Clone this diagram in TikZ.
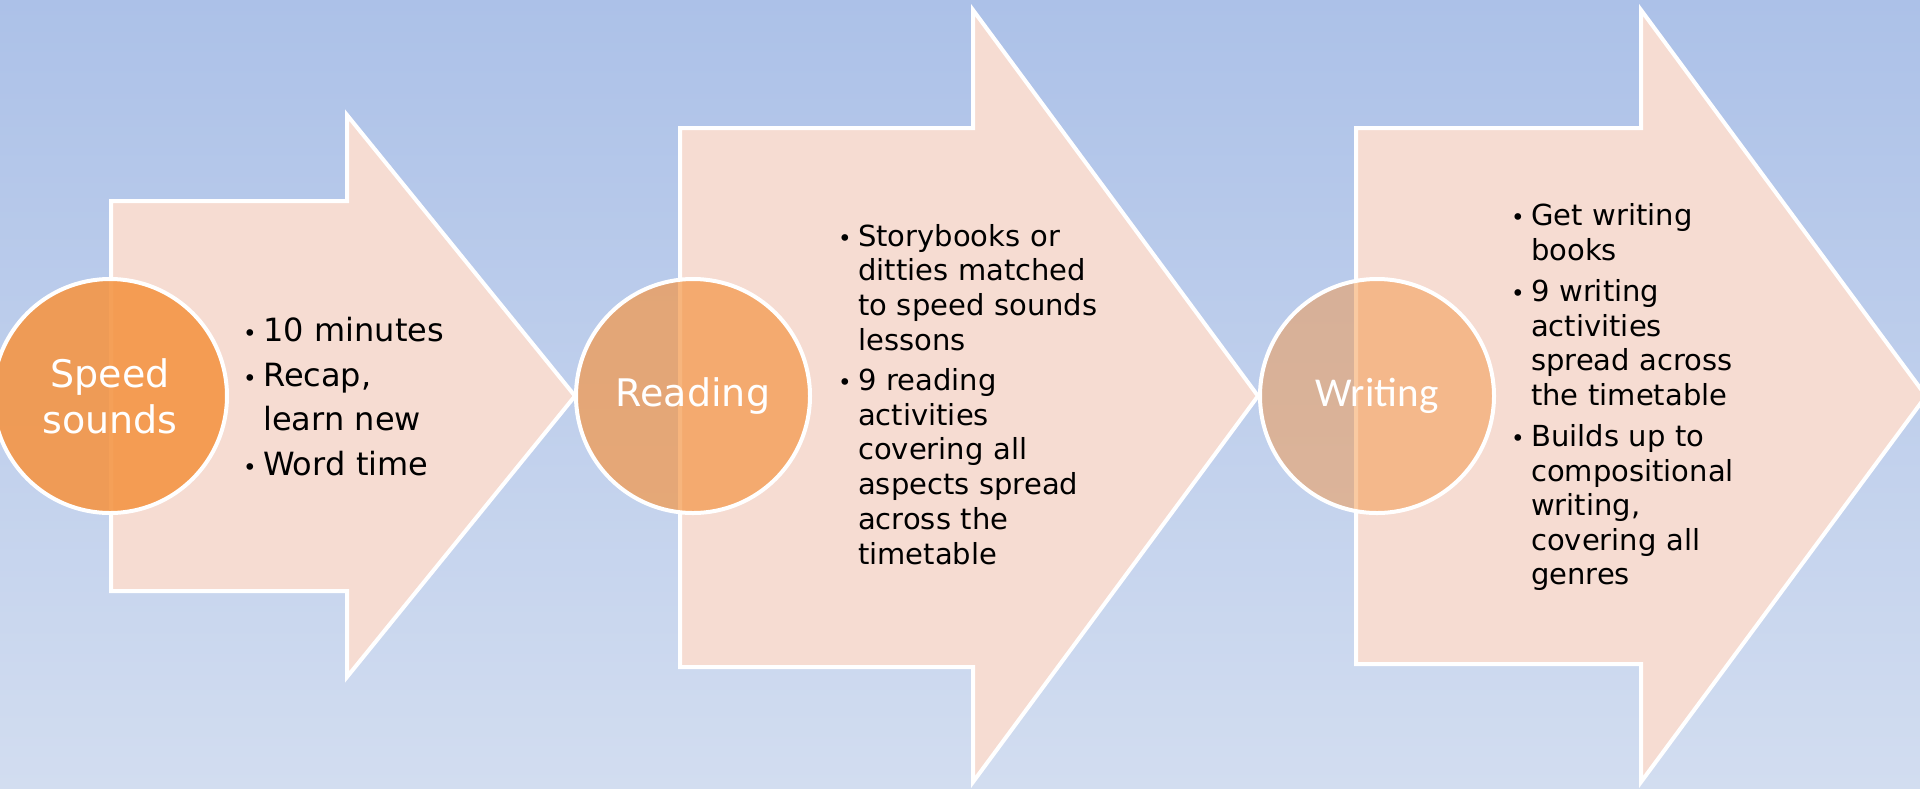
\documentclass[tikz,border=0pt]{standalone}
\usepackage{fontspec}
\setmainfont{DejaVu Sans}
\newfontfamily\calibfont{Carlito}
\usepackage{enumitem}
\usetikzlibrary{positioning}

\definecolor{bgtop}{RGB}{172,193,232}
\definecolor{bgbottom}{RGB}{210,221,240}
\definecolor{peach}{RGB}{246,220,210}
\definecolor{stageorange}{RGB}{244,150,70}

\newcommand{\bulletmark}{{\fontsize{23}{23}\selectfont\textbullet}}
\newlist{points}{itemize}{1}
\setlist[points]{label=\bulletmark, leftmargin=20pt, labelwidth=20pt, labelsep=0pt, align=left,
  topsep=0pt, partopsep=0pt, parsep=0pt, itemsep=6pt}

\begin{document}
\begin{tikzpicture}[
    x=1pt, y=-1pt,
    chevron/.style={fill=peach, draw=white, line width=4pt, line join=miter},
    stage/.style={circle, draw=white, line width=4pt, fill=stageorange, minimum size=234pt, inner sep=0pt, text=white, text opacity=1, align=center},
    notes/.style={anchor=north west, inner sep=0pt, text width=300pt, align=left, font=\fontsize{29}{34.5}\selectfont}
]

% Background
\shade[top color=bgtop, bottom color=bgbottom] (0,0) rectangle (1920,788);
\useasboundingbox (0,0) rectangle (1920,788);

% Stage arrows
\draw[chevron] (111,201) -- (347,201) -- (347,115) -- (575,396) -- (347,677) -- (347,591) -- (111,591) -- cycle;
\draw[chevron] (680,128) -- (973,128) -- (973,10) -- (1258,396) -- (973,782) -- (973,667) -- (680,667) -- cycle;
\draw[chevron] (1356,128) -- (1641,128) -- (1641,10) -- (1926,396) -- (1641,782) -- (1641,664) -- (1356,664) -- cycle;

% Stage circles
\node[stage, fill opacity=0.9, font=\fontsize{38}{46}\selectfont] (speed) at (110,396) {Speed\\sounds};
\node[stage, fill opacity=0.7, font=\fontsize{38}{46}\selectfont] (reading) at (693,396) {Reading};
\node[stage, fill opacity=0.5, font=\calibfont\fontsize{41}{46}\selectfont] (writing) at (1377,396) {Writing};

% Notes in each arrow
\node[notes, font=\fontsize{32}{44.5}\selectfont] (speednotes) at (243,297) {%
  \begin{points}[itemsep=0pt]
    \item 10 minutes
    \item Recap,\\ learn new
    \item Word time
  \end{points}};
\node[notes, font=\fontsize{29}{34.8}\selectfont] (readingnotes) at (838,211) {%
  \begin{points}[itemsep=5pt]
    \item Storybooks or\\ ditties matched\\ to speed sounds\\ lessons
    \item 9 reading\\ activities\\ covering all\\ aspects spread\\ across the\\ timetable
  \end{points}};
\node[notes] (writingnotes) at (1511,191) {%
  \begin{points}[itemsep=7pt]
    \item Get writing\\ books
    \item 9 writing\\ activities\\ spread across\\ the timetable
    \item Builds up to\\ compositional\\ writing,\\ covering all\\ genres
  \end{points}};

\end{tikzpicture}
\end{document}
